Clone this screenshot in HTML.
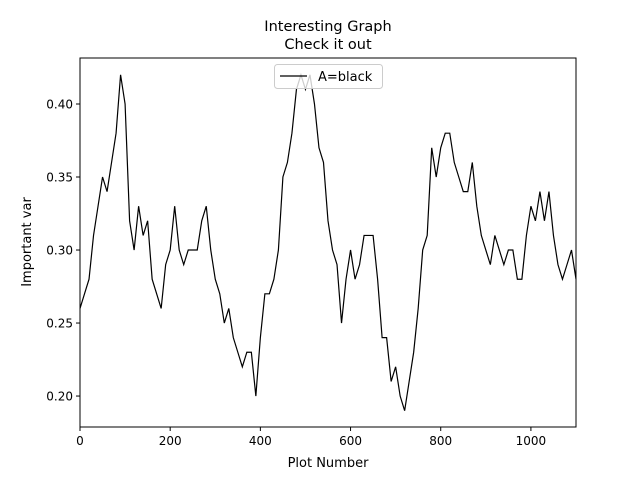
<!DOCTYPE html>
<html><head><meta charset="utf-8">
<style>
body{margin:0;background:#fff;}
svg{display:block;font-family:"DejaVu Sans","Liberation Sans",sans-serif;}
</style></head>
<body>
<svg id="chart" width="640" height="480" viewBox="0 0 640 480">
<rect width="640" height="480" fill="#fff"/>
<text x="328" y="31" text-anchor="middle" font-size="14.5">Interesting Graph</text>
<text x="328" y="49" text-anchor="middle" font-size="14.5">Check it out</text>
<g id="axes"></g>
<text x="328" y="467" text-anchor="middle" font-size="13">Plot Number</text>
<text x="31" y="242" text-anchor="middle" font-size="13" transform="rotate(-90 31 242)">Important var</text>
</svg>
<script>
const xStart = 0, xStep = 10;
const values = [0.26,0.27,0.28,0.31,0.33,0.35,0.34,0.36,0.38,0.42,0.40,0.32,0.30,0.33,0.31,0.32,0.28,0.27,0.26,0.29,
0.30,0.33,0.30,0.29,0.30,0.30,0.30,0.32,0.33,0.30,0.28,0.27,0.25,0.26,0.24,0.23,0.22,0.23,0.23,0.20,
0.24,0.27,0.27,0.28,0.30,0.35,0.36,0.38,0.41,0.42,0.41,0.42,0.40,0.37,0.36,0.32,0.30,0.29,0.25,0.28,
0.30,0.28,0.29,0.31,0.31,0.31,0.28,0.24,0.24,0.21,0.22,0.20,0.19,0.21,0.23,0.26,0.30,0.31,0.37,0.35,
0.37,0.38,0.38,0.36,0.35,0.34,0.34,0.36,0.33,0.31,0.30,0.29,0.31,0.30,0.29,0.30,0.30,0.28,0.28,0.31,
0.33,0.32,0.34,0.32,0.34,0.31,0.29,0.28,0.29,0.30,0.28];
const xTicks = [0,200,400,600,800,1000];
const yTicks = [0.20,0.25,0.30,0.35,0.40];
const yTickLabels = ["0.20","0.25","0.30","0.35","0.40"];
const seriesLabel = "A=black";

const L=80,R=576,T=58,B=427, xMin=0,xMax=1100, yMin=0.1788,yMax=0.4315;
const xs=v=>L+(v-xMin)/(xMax-xMin)*(R-L);
const ys=v=>B-(v-yMin)/(yMax-yMin)*(B-T);
const NS="http://www.w3.org/2000/svg";
const g=document.getElementById('axes');
function mk(t,a,p){const e=document.createElementNS(NS,t);for(const k in a)e.setAttribute(k,a[k]);(p||g).appendChild(e);return e;}

let d='';
values.forEach((v,i)=>{d+=(i?'L':'M')+xs(xStart+i*xStep).toFixed(2)+','+ys(v).toFixed(2);});
const line=mk('path',{d:d,fill:'none',stroke:'#000','stroke-width':1.2});



const frame=mk('rect',{x:L,y:T,width:R-L,height:B-T,fill:'none',stroke:'#000','stroke-width':1});



xTicks.forEach(t=>{
  const x=xs(t);
  const tk=mk('line',{x1:x,x2:x,y1:B,y2:B+4,stroke:'#000'});
  
  
  const tx=mk('text',{x:x,y:B+18,'text-anchor':'middle','font-size':12});
  tx.textContent=t;
  
  
});
yTicks.forEach((t,i)=>{
  const y=ys(t);
  const tk=mk('line',{x1:L-4,x2:L,y1:y,y2:y,stroke:'#000'});
  
  
  const tx=mk('text',{x:L-7,y:y+4.5,'text-anchor':'end','font-size':12});
  tx.textContent=yTickLabels[i];
  
  
});

const lg=mk('g',{});


mk('rect',{x:274.5,y:64.5,width:108,height:24,rx:3,fill:'#fff','fill-opacity':0.8,stroke:'#ccc'},lg);
mk('line',{x1:280,x2:307,y1:76,y2:76,stroke:'#000','stroke-width':1.2},lg);
const lt=mk('text',{x:318,y:81,'font-size':13},lg);
lt.textContent=seriesLabel;


</script>
</body></html>
